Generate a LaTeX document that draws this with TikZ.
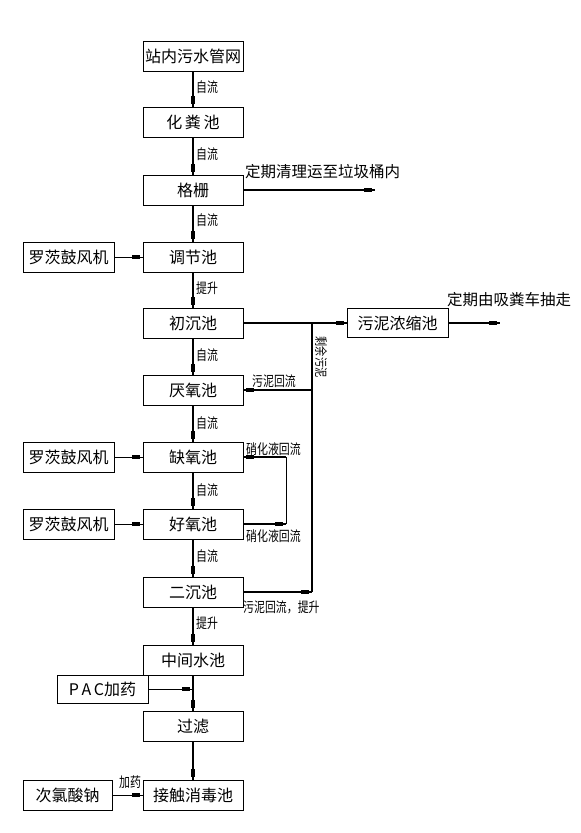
\documentclass[tikz,border=0pt]{standalone}
\usepackage{fontspec}
\newfontfamily\cjk{Noto Sans CJK SC}
\newfontfamily\cjkn[FakeStretch=0.78]{Noto Sans CJK SC}
\usetikzlibrary{decorations.markings}
\begin{document}
\begin{tikzpicture}[x=1pt,y=-1pt,
  box/.style={draw, line width=0.8pt, minimum width=100pt, minimum height=30pt, inner sep=0pt, font=\cjk\fontsize{16}{16}\selectfont},
  sbox/.style={box, minimum width=91pt},
  lbl/.style={anchor=west, inner sep=0pt, font=\cjkn\fontsize{14}{14}\selectfont},
  big/.style={anchor=west, inner sep=0pt, font=\cjk\fontsize{15.5}{15.5}\selectfont},
  flow/.style={postaction={decorate}, decoration={markings, mark=at position -3pt with {\fill (-8pt,-1.6pt) rectangle (0pt,1.6pt);}}},
  vline/.style={flow, line width=2.2pt},
  hline/.style={flow, line width=1.6pt},
  tline/.style={flow, line width=1pt}
]
\useasboundingbox (0,0) rectangle (581,833);

% main column
\node[box] (n1) at (193,56) {站内污水管网};
\node[box] (n2) at (193,122) {化\,粪\,池};
\node[box] (n3) at (193,190) {格栅};
\node[box] (n4) at (193,257) {调节池};
\node[box] (n5) at (193,323) {初沉池};
\node[box] (n6) at (193,390) {厌氧池};
\node[box] (n7) at (193,457) {缺氧池};
\node[box] (n8) at (193,524) {好氧池};
\node[box] (n9) at (193,592) {二沉池};
\node[box] (n10) at (193,660) {中间水池};
\node[box] (n11) at (193,726) {过滤};
\node[box] (n12) at (193,795) {接触消毒池};

% side boxes
\node[sbox] (b1) at (68.5,257) {罗茨鼓风机};
\node[sbox] (b2) at (68.5,457) {罗茨鼓风机};
\node[sbox] (b3) at (68.5,524) {罗茨鼓风机};
\node[sbox, minimum height=28pt] (pac) at (102.5,689) {P\,A\,C加药};
\node[sbox, minimum width=89pt] (naclo) at (67.5,795) {次氯酸钠};
\node[box, minimum width=101pt, minimum height=29pt] (sn) at (397.5,323) {污泥浓缩池};

% main vertical flow
\draw[vline] (n1) -- (n2);
\draw[vline] (n2) -- (n3);
\draw[vline] (n3) -- (n4);
\draw[vline] (n4) -- (n5);
\draw[vline] (n5) -- (n6);
\draw[vline] (n6) -- (n7);
\draw[vline] (n7) -- (n8);
\draw[vline] (n8) -- (n9);
\draw[vline] (n9) -- (n10);
\draw[vline] (n10) -- (n11);
\draw[vline] (n11) -- (n12);

% flow labels
\node[lbl] (l1) at (196,87) {自流};
\node[lbl] (l2) at (196,154) {自流};
\node[lbl] (l3) at (196,220) {自流};
\node[lbl] (l4) at (196,288) {提升};
\node[lbl] (l5) at (196,355) {自流};
\node[lbl] (l6) at (196,423) {自流};
\node[lbl] (l7) at (196,490) {自流};
\node[lbl] (l8) at (196,556) {自流};
\node[lbl] (l9) at (196,623) {提升};

% screen waste
\coordinate (g1) at (375,190);
\draw[hline] (n3.east) -- (g1);
\node[big] (t1) at (245,172) {定期清理运至垃圾桶内};

% blowers
\draw[tline] (b1) -- (n4);
\draw[tline] (b2) -- (n7);
\draw[tline] (b3) -- (n8);

% sludge
\coordinate (j1) at (312,323);
\coordinate (j2) at (312,592);
\coordinate (j3) at (312,390);
\draw[hline] (n5.east) -- (sn.west);
\draw[hline] (n9.east) -- (j2);
\draw[line width=1.8pt] (j2) -- (j1);
\draw[hline] (j3) -- (n6.east);
\coordinate (s1) at (500,323);
\draw[hline] (sn.east) -- (s1);
\node[big] (t2) at (447,300) {定期由吸粪车抽走};
\node[inner sep=0pt, rotate=-90, font=\cjkn\fontsize{13}{13}\selectfont] (t3) at (321,357) {剩余污泥};
\node[lbl] (t4) at (252,381) {污泥回流};
\node[lbl] (t5) at (243,607) {污泥回流，提升};

% nitrified liquid recycle
\coordinate (k1) at (286,524);
\coordinate (k2) at (286,457);
\draw[hline] (n8.east) -- (k1);
\draw[line width=1pt] (k1) -- (k2);
\draw[hline] (k2) -- (n7.east);
\node[lbl] (t6) at (246,449) {硝化液回流};
\node[lbl] (t7) at (246,536) {硝化液回流};

% dosing
\coordinate (p1) at (193,689);
\draw[tline] (pac.east) -- (p1);
\draw[tline] (naclo.east) -- (n12.west);
\node[lbl, anchor=center] (t8) at (130,782) {加药};
\end{tikzpicture}
\end{document}
